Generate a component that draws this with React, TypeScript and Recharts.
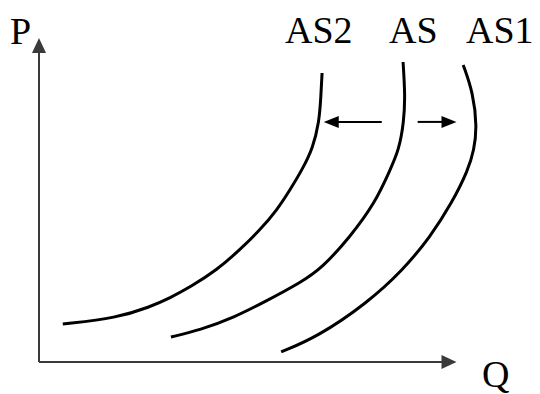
import { ComposedChart, Scatter, XAxis, YAxis, ReferenceLine } from "recharts";

// supply curves, quantity (q) vs price (p), listed from bottom to top
const as2Curve = [
  { q: 5.7, p: 11.7 },
  { q: 18.7, p: 13.6 },
  { q: 26.6, p: 17.0 },
  { q: 31.4, p: 19.8 },
  { q: 36.2, p: 23.1 },
  { q: 42.6, p: 28.4 },
  { q: 48.1, p: 34.6 },
  { q: 52.9, p: 40.7 },
  { q: 57.0, p: 46.9 },
  { q: 60.1, p: 53.1 },
  { q: 63.0, p: 59.3 },
  { q: 65.6, p: 66.0 },
  { q: 67.1, p: 74.1 },
  { q: 67.5, p: 81.5 },
  { q: 67.8, p: 89.2 },
];

const asCurve = [
  { q: 31.6, p: 7.7 },
  { q: 38.6, p: 9.9 },
  { q: 46.5, p: 13.6 },
  { q: 54.4, p: 18.8 },
  { q: 62.5, p: 24.4 },
  { q: 67.8, p: 29.0 },
  { q: 74.5, p: 38.6 },
  { q: 80.5, p: 49.1 },
  { q: 84.1, p: 59.3 },
  { q: 86.2, p: 65.4 },
  { q: 87.4, p: 74.1 },
  { q: 87.7, p: 82.4 },
  { q: 87.2, p: 92.6 },
];

const as1Curve = [
  { q: 58.0, p: 3.1 },
  { q: 66.6, p: 7.7 },
  { q: 78.6, p: 18.2 },
  { q: 87.2, p: 28.4 },
  { q: 93.7, p: 38.6 },
  { q: 98.9, p: 49.1 },
  { q: 102.8, p: 59.3 },
  { q: 104.2, p: 65.4 },
  { q: 104.9, p: 72.5 },
  { q: 104.0, p: 83.0 },
  { q: 101.6, p: 91.7 },
];

const curveLabels = ["AS2", "AS", "AS1"];

// shift arrows between the curves: [from, to]
const shiftLeft = [{ q: 82.1, p: 74.1 }, { q: 68.2, p: 74.1 }];
const shiftRight = [{ q: 90.7, p: 74.1 }, { q: 100, p: 74.1 }];

const axisX = [{ q: 0, p: 0 }, { q: 100, p: 0 }];
const axisY = [{ q: 0, p: 0 }, { q: 0, p: 100 }];

const textStyle = {
  fontFamily: '"Liberation Serif", "DejaVu Serif", serif',
  fontSize: 38,
  fill: "#000",
};

const arrowShape = (color: string, width: number, headLen: number, headHalf: number) => (props: any) => {
  const { x1, y1, x2, y2 } = props;
  const dx = x2 - x1;
  const dy = y2 - y1;
  const len = Math.sqrt(dx * dx + dy * dy) || 1;
  const ux = dx / len;
  const uy = dy / len;
  const bx = x2 - ux * headLen;
  const by = y2 - uy * headLen;
  const pts = [
    `${x2},${y2}`,
    `${bx - uy * headHalf},${by + ux * headHalf}`,
    `${bx + uy * headHalf},${by - ux * headHalf}`,
  ].join(" ");
  return (
    <g>
      <line x1={x1} y1={y1} x2={bx + ux * 2} y2={by + uy * 2} stroke={color} strokeWidth={width} />
      <polygon points={pts} fill={color} />
    </g>
  );
};

const noDot = () => <g />;

export default function App() {
  const curves = [as2Curve, asCurve, as1Curve];
  return (
    <div style={{ position: "absolute", left: 0, top: 0, background: "#fff" }}>
      <ComposedChart
        width={540}
        height={394}
        margin={{ top: 38, right: 0, bottom: 32, left: 39 }}
      >
        <XAxis type="number" dataKey="q" domain={[0, 120]} hide />
        <YAxis type="number" dataKey="p" domain={[0, 100]} hide />
        <ReferenceLine
          segment={axisY.map((d) => ({ x: d.q, y: d.p }))}
          shape={arrowShape("#3a3a3a", 2, 15, 7)}
          ifOverflow="visible"
        />
        <ReferenceLine
          segment={axisX.map((d) => ({ x: d.q, y: d.p }))}
          shape={arrowShape("#3a3a3a", 2, 15, 7)}
          ifOverflow="visible"
        />
        {curves.map((c, i) => (
          <Scatter
            key={curveLabels[i]}
            data={c}
            line={{ stroke: "#000", strokeWidth: 3 }}
            lineJointType="basis"
            shape={noDot}
            isAnimationActive={false}
          />
        ))}
        <ReferenceLine
          segment={shiftLeft.map((d) => ({ x: d.q, y: d.p }))}
          shape={arrowShape("#000", 2, 15, 6)}
          ifOverflow="visible"
        />
        <ReferenceLine
          segment={shiftRight.map((d) => ({ x: d.q, y: d.p }))}
          shape={arrowShape("#000", 2, 15, 6)}
          ifOverflow="visible"
        />
        <text x={10} y={44} style={textStyle}>P</text>
        <text x={482} y={387} style={textStyle}>Q</text>
        {curveLabels.map((label, i) => (
          <text key={label} x={[285, 389, 466][i]} y={43} style={textStyle}>
            {label}
          </text>
        ))}
      </ComposedChart>
    </div>
  );
}
